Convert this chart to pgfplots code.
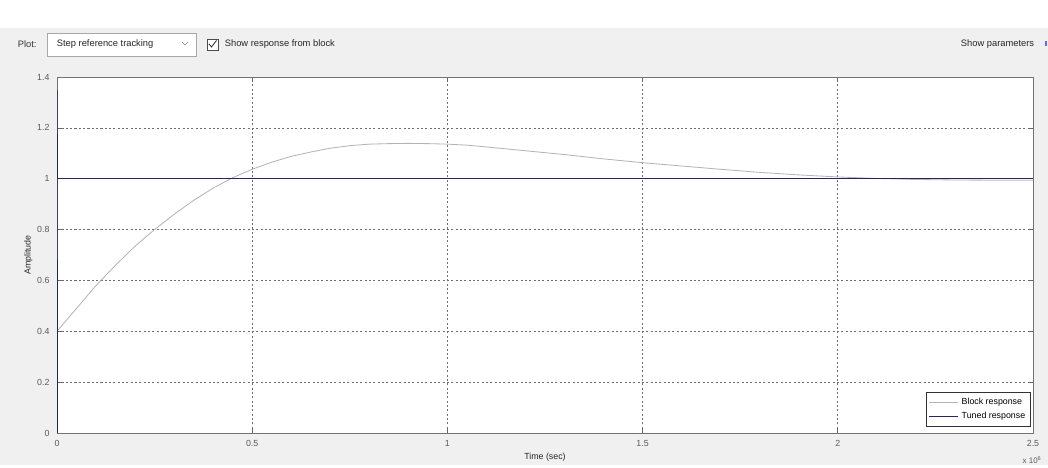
\documentclass[border=0pt]{standalone}
\usepackage{pgfplots}
\pgfplotsset{compat=1.18}
\usepackage{fontspec}
\setmainfont{Liberation Sans}

\definecolor{panel}{HTML}{F0F0F0}
\definecolor{tuned}{HTML}{26265E}
\definecolor{block}{HTML}{B4B4B4}
\definecolor{ticktxt}{HTML}{5A5A5A}
\definecolor{gridc}{HTML}{6E6E6E}
\definecolor{boxc}{HTML}{A8A8A8}

\begin{document}
\begin{tikzpicture}
% window background and toolbar (1 unit = 1 screen pixel)
\begin{scope}[x=0.6pt,y=0.6pt]
  \fill[panel] (0,0) rectangle (1048,465);
  \fill[white] (0,437) rectangle (1048,465);
  \node[anchor=west,font=\fontsize{5.6}{6}\selectfont,text=black!80] at (12,421) {Plot:};
  \draw[boxc,fill=white] (47,409) rectangle (196,432);
  \node[anchor=west,font=\fontsize{5.6}{6}\selectfont,text=black!85] at (51,421) {Step reference tracking};
  \draw[black!45,line width=0.4pt] (182,423) -- (185,420) -- (188,423);
  \draw[black!70,fill=white,line width=0.4pt] (207,415) rectangle (218,426);
  \draw[black!80,line width=0.5pt] (209,421) -- (211.5,418) -- (216.5,424.5);
  \node[anchor=west,font=\fontsize{5.6}{6}\selectfont,text=black!85] at (219,421) {Show response from block};
  \node[anchor=east,font=\fontsize{5.6}{6}\selectfont,text=black!85] at (1040,421) {Show parameters};
  \fill[blue!60] (1045,419) rectangle (1047,424);
  \node[anchor=south east,font=\fontsize{4.8}{5}\selectfont,text=ticktxt,inner sep=0pt] at (1042,1) {x 10\textsuperscript{6}};
\end{scope}

\begin{axis}[
  at={(34.2pt,19.2pt)}, anchor=south west,
  scale only axis, width=585.6pt, height=213.6pt,
  xmin=0, xmax=2.5, ymin=0, ymax=1.4,
  xtick={0,0.5,...,2.5}, ytick={0,0.2,...,1.4},
  xticklabels={0,0.5,1,1.5,2,2.5},
  yticklabels={0,0.2,0.4,0.6,0.8,1,1.2,1.4},
  scaled x ticks=false,
  axis background/.style={fill=white},
  axis line style={draw=black!55, line width=0.4pt},
  tick style={draw=black!60, line width=0.4pt},
  tick align=inside, major tick length=3pt,
  grid=major,
  major grid style={draw=gridc, line width=0.4pt, dash pattern=on 1.3pt off 1.3pt},
  tick label style={font=\fontsize{5.3}{6}\selectfont, text=ticktxt},
  /pgf/number format/assume math mode=true,
  xticklabel style={yshift=-1pt},
  yticklabel style={xshift=-1pt},
  xlabel={Time (sec)},
  ylabel={Amplitude},
  label style={font=\fontsize{5.3}{6}\selectfont, text=black!85},
  xlabel style={yshift=3pt},
  ylabel style={yshift=-4pt},
  legend cell align=left,
  legend style={at={(0.998,0.018)}, anchor=south east,
    font=\fontsize{5.3}{6}\selectfont, draw=black!80, line width=0.4pt,
    inner sep=1.3pt, row sep=-1pt, fill=white},
  legend image post style={line width=0.6pt},
]
% block response
\addplot[block, line width=0.5pt] coordinates {
 (0,0.40) (0.05,0.49) (0.1,0.58) (0.15,0.66) (0.2,0.735) (0.25,0.80)
 (0.3,0.86) (0.35,0.915) (0.4,0.963) (0.45,1.004) (0.5,1.037) (0.55,1.065)
 (0.6,1.088) (0.65,1.105) (0.7,1.12) (0.75,1.13) (0.8,1.136) (0.85,1.138)
 (0.9,1.139) (0.95,1.138) (1.0,1.136) (1.05,1.132) (1.1,1.125) (1.2,1.11)
 (1.3,1.095) (1.4,1.078) (1.5,1.063) (1.6,1.05) (1.7,1.037) (1.8,1.025)
 (1.9,1.015) (2.0,1.007) (2.1,1.001) (2.2,0.997) (2.3,0.995) (2.4,0.994) (2.5,0.994)
};
\addlegendentry{Block response}
% tuned response
\addplot[tuned, line width=0.6pt] coordinates {
 (0,0) (0,1.35) (0,1) (2.5,1)
};
\addlegendentry{Tuned response}
\end{axis}
\end{tikzpicture}
\end{document}
